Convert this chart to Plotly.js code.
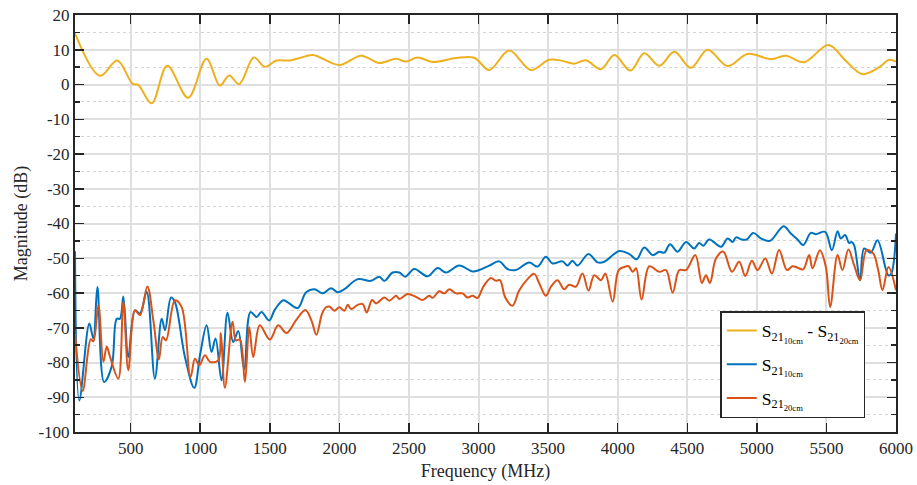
<!DOCTYPE html>
<html>
<head>
<meta charset="utf-8">
<script src="https://cdn.plot.ly/plotly-3.0.1.min.js"></script>
<style>html,body{margin:0;padding:0;background:#fff;}#chart{width:917px;height:485px;}</style>
</head>
<body>
<div id="chart"></div>
<script>
// ---- data ----
const diffFreq = [100,280,404,514,554,651,763,913,1045,1141,1208,1280,1385,1464,1548,1644,1713,1809,2000,2156,2287,2407,2479,2562,2670,2838,2969,3077,3220,3376,3508,3603,3687,3771,3879,3976,4091,4191,4299,4407,4526,4646,4790,4933,5101,5208,5340,5515,5639,5759,5878,5950,6000];
const diffVal  = [14.7,2.5,6.9,0.2,-0.1,-5.4,5.4,-3.8,7.4,-0.3,2.6,0.1,7.8,5.1,6.9,6.9,7.6,8.5,5.6,8.3,6.2,7.4,6.6,7.8,6.5,7.6,7.7,4.2,9.8,4.2,7.1,6.8,6.0,7.0,4.4,8.5,4.0,9.0,5.4,9.4,4.8,10.0,5.3,8.8,7.3,8.3,6.4,11.4,6.8,3.0,4.9,7.1,6.6];

const s10Freq = [100,131,203,232,261,309,364,400,423,447,483,531,567,615,674,723,747,790,818,890,957,1000,1046,1081,1110,1153,1196,1237,1273,1316,1361,1405,1440,1495,1536,1596,1629,1701,1761,1821,1880,1940,1988,2036,2132,2227,2287,2323,2383,2431,2474,2538,2634,2706,2766,2861,2957,3005,3077,3149,3208,3268,3364,3424,3484,3532,3603,3639,3675,3711,3790,3856,3904,4012,4084,4136,4191,4251,4299,4335,4376,4431,4491,4550,4586,4615,4658,4742,4790,4826,4850,4890,4928,4974,5029,5094,5192,5244,5292,5333,5388,5424,5491,5539,5580,5603,5634,5663,5682,5699,5742,5771,5819,5867,5945,5965,6000];
const s10Val  = [-48,-90.9,-68.8,-73.1,-58.3,-85.6,-81.1,-67.4,-67.4,-61.0,-78.4,-65.0,-65.9,-59.7,-84.6,-67.4,-70.7,-61.3,-62.6,-78.4,-87.3,-77.5,-69.3,-77.0,-73.1,-85.1,-65.7,-74.1,-70.9,-82.0,-65.5,-66.9,-65.5,-67.9,-64.8,-62.1,-62.7,-64.3,-59.8,-58.9,-60.1,-58.6,-59.8,-58.9,-56.0,-56.5,-55.3,-56.5,-54.1,-54.1,-55.3,-53.1,-55.2,-52.8,-54.1,-52.1,-53.8,-53.4,-52.1,-50.9,-53.1,-53.4,-51.2,-52.4,-49.6,-51.5,-50.9,-52.1,-50.7,-52.1,-48.8,-51.2,-51.0,-47.9,-48.8,-50.3,-46.9,-49.1,-48.1,-48.4,-46.0,-48.1,-45.3,-47.2,-45.6,-46.4,-44.6,-46.7,-44.3,-45.3,-44.0,-44.6,-44.6,-42.7,-44.3,-45.0,-40.8,-42.9,-44.6,-46.2,-42.7,-43.1,-42.4,-47.7,-42.2,-44.3,-43.3,-45.6,-45.3,-46.2,-56.3,-47.2,-48.4,-44.8,-54.9,-54.5,-42.9];

const s20Freq = [100,155,213,232,268,304,328,352,411,447,483,531,567,620,663,703,730,754,818,866,930,962,993,1034,1070,1129,1148,1177,1232,1256,1285,1321,1352,1381,1428,1500,1560,1620,1689,1756,1800,1835,1875,1904,1928,1964,2000,2036,2060,2084,2132,2168,2196,2235,2263,2323,2359,2407,2431,2490,2550,2598,2646,2670,2718,2754,2790,2837,2885,2921,2957,2993,3034,3089,3125,3154,3192,3244,3292,3352,3400,3436,3484,3520,3567,3615,3651,3699,3747,3790,3832,3880,3911,3964,4007,4048,4079,4108,4132,4172,4227,4299,4347,4395,4443,4491,4558,4605,4634,4663,4706,4759,4821,4873,4917,4964,5005,5060,5108,5160,5216,5256,5292,5333,5376,5400,5453,5496,5527,5580,5615,5658,5699,5742,5788,5836,5872,5903,5946,6000];
const s20Val  = [-71.7,-88.2,-73.3,-73.9,-63.5,-79.8,-75.5,-78.4,-84.6,-62.6,-82.2,-65.0,-66.4,-58.1,-67.9,-79.1,-72.7,-73.6,-62.1,-64.0,-84.2,-78.9,-80.8,-77.9,-79.8,-79.4,-71.5,-87.3,-68.3,-73.6,-73.4,-85.6,-69.8,-78.4,-69.3,-73.4,-69.3,-71.5,-67.8,-64.9,-68.0,-72.0,-66.0,-64.1,-63.9,-65.1,-64.1,-65.1,-63.4,-64.6,-63.4,-63.2,-65.6,-62.0,-63.0,-61.3,-62.2,-60.8,-61.7,-60.3,-61.1,-62.0,-60.8,-61.4,-59.5,-60.1,-58.9,-60.1,-60.1,-61.3,-60.8,-61.4,-58.2,-55.7,-56.5,-56.3,-61.3,-63.7,-59.3,-56.0,-54.5,-57.2,-60.8,-58.2,-56.3,-58.9,-57.6,-58.2,-54.4,-59.3,-54.9,-56.3,-54.4,-62.5,-53.4,-52.5,-52.3,-53.9,-52.9,-61.9,-52.3,-53.9,-53.4,-59.9,-53.4,-53.4,-49.1,-57.1,-54.9,-57.1,-50.1,-48.1,-53.9,-51.0,-55.1,-50.7,-53.4,-50.1,-54.4,-47.6,-53.4,-52.3,-52.7,-53.2,-49.1,-52.9,-47.7,-52.5,-64.0,-49.1,-53.4,-47.5,-52.0,-56.3,-47.7,-48.6,-53.4,-59.2,-52.5,-59.2];

const seriesNames = [
  'S<sub>21<sub>10cm</sub></sub> - S<sub>21<sub>20cm</sub></sub>',
  'S<sub>21<sub>10cm</sub></sub>',
  'S<sub>21<sub>20cm</sub></sub>'
];
const xTickVals = [500,1000,1500,2000,2500,3000,3500,4000,4500,5000,5500,6000];
const xTickLabels = ['500','1000','1500','2000','2500','3000','3500','4000','4500','5000','5500','6000'];
const yTickVals = [20,10,0,-10,-20,-30,-40,-50,-60,-70,-80,-90,-100];
const yTickLabels = ['20','10','0','-10','-20','-30','-40','-50','-60','-70','-80','-90','-100'];
const xTitle = 'Frequency (MHz)';
const yTitle = 'Magnitude (dB)';

// ---- styling ----
const colors = ['#EDB120', '#0072BD', '#D95319'];
const FONT = 'Liberation Serif';
const AX = '#262626';
const GRID = '#dfdfdf';

function mk(x, y, i) {
  return {x: x, y: y, name: seriesNames[i], legendgroup: 'g' + i, type: 'scatter', mode: 'lines',
    line: {color: colors[i], width: 2, shape: 'spline', smoothing: 1}};
}
const traces = [mk(diffFreq, diffVal, 0), mk(s10Freq, s10Val, 1), mk(s20Freq, s20Val, 2)];

const layout = {
  width: 917, height: 485,
  margin: {l: 75, r: 21, t: 15, b: 53},
  paper_bgcolor: '#fff', plot_bgcolor: '#fff',
  font: {family: FONT, size: 17, color: AX},
  showlegend: true,
  legend: {x: 0.786, y: 0.29, xanchor: 'left', yanchor: 'top',
    bgcolor: '#fff', bordercolor: AX, borderwidth: 1.5,
    tracegroupgap: 8, itemwidth: 30,
    font: {family: FONT, size: 17.5, color: '#000'}},
  xaxis: {range: [100, 6000], tickvals: xTickVals, ticktext: xTickLabels,
    ticks: 'inside', ticklen: 9, tickwidth: 1.5, tickcolor: AX,
    showline: true, linecolor: AX, linewidth: 2, mirror: 'allticks',
    showgrid: true, gridcolor: GRID, gridwidth: 2, zeroline: false,
    tickfont: {family: FONT, size: 17, color: AX},
    title: {text: xTitle, font: {family: FONT, size: 18, color: AX}, standoff: 7}},
  yaxis: {range: [-100, 20], tickvals: yTickVals, ticktext: yTickLabels,
    ticks: 'inside', ticklen: 9, tickwidth: 1.5, tickcolor: AX,
    showline: true, linecolor: AX, linewidth: 2, mirror: 'allticks',
    showgrid: true, gridcolor: GRID, gridwidth: 2, zeroline: false,
    minor: {dtick: 5, tick0: 0, ticks: 'inside', ticklen: 5, tickcolor: AX,
      showgrid: true, gridcolor: '#d4d4d4', gridwidth: 1, griddash: 'dot'},
    tickfont: {family: FONT, size: 17, color: AX},
    title: {text: yTitle, font: {family: FONT, size: 18, color: AX}, standoff: 6}}
};

Plotly.newPlot('chart', traces, layout, {staticPlot: true, displayModeBar: false});
</script>
</body>
</html>
